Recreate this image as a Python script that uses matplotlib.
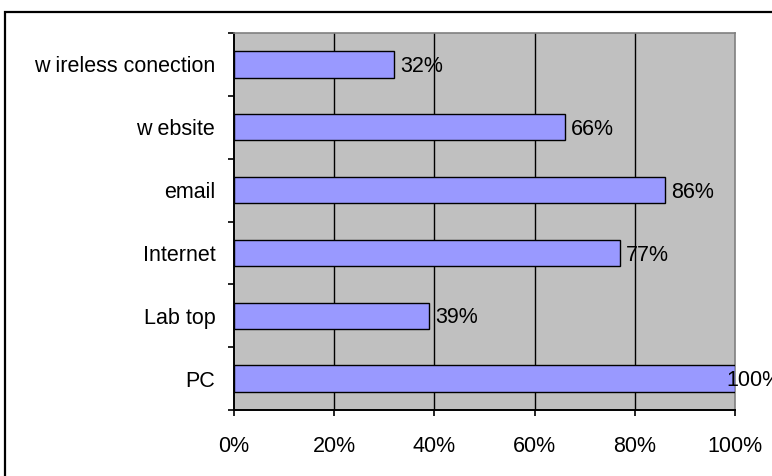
import matplotlib
matplotlib.use("Agg")
import matplotlib.pyplot as plt
from matplotlib.patches import Rectangle

# survey results, bottom to top
categories = ["PC", "Lab top", "Internet", "email", "w ebsite", "w ireless conection"]
values = [100, 39, 77, 86, 66, 32]
xticks = [0, 20, 40, 60, 80, 100]

plt.rcParams['font.family'] = ['Liberation Sans', 'DejaVu Sans']
fs = 15.5

fig = plt.figure(figsize=(7.72, 4.76), dpi=100)
fig.patch.set_facecolor('white')

# chart frame (runs off the right and bottom edge)
fig.patches.append(Rectangle((5/772, -0.1), 1.0, 1 - 12/476 + 0.1,
                             transform=fig.transFigure, fill=False,
                             edgecolor='black', linewidth=1.6))

ax = fig.add_axes([234/772, 1 - 410/476, (735 - 234)/772, (410 - 33)/476])
ax.set_facecolor('#C0C0C0')

ypos = list(range(len(categories)))
ax.barh(ypos, values, height=0.42, color='#9999FF', edgecolor='black', linewidth=1.0, zorder=3)

# value labels; the full bar gets its label pulled back over the bar end
for y, v in zip(ypos, values):
    dx = 4.5 if v < 100 else -6
    ax.annotate('%d%%' % v, (v, y), xytext=(dx, -1.5), textcoords='offset points',
                ha='left', va='center', fontsize=fs, zorder=4, annotation_clip=False)

ax.set_xlim(0, 100)
ax.set_ylim(-0.5, len(categories) - 0.5)
ax.set_xticks(xticks)
ax.set_xticklabels(['%d%%' % t for t in xticks], fontsize=fs)
ax.set_yticks(ypos)
ax.set_yticklabels(categories, fontsize=fs)
ax.set_yticks([i - 0.5 for i in range(len(categories) + 1)], minor=True)
ax.tick_params(axis='y', which='major', length=0, pad=13.5)
ax.tick_params(axis='y', which='minor', length=4.3, width=1.2, direction='out')
ax.tick_params(axis='x', length=4.3, width=1.2, direction='out', pad=14.5)

for x in xticks[1:-1]:
    ax.axvline(x, color='black', linewidth=1.0, zorder=1)

for side in ['top', 'right']:
    ax.spines[side].set_color('#808080')
    ax.spines[side].set_linewidth(1.2)
for side in ['left', 'bottom']:
    ax.spines[side].set_color('black')
    ax.spines[side].set_linewidth(1.4)

fig.savefig('out.png', dpi=100)
